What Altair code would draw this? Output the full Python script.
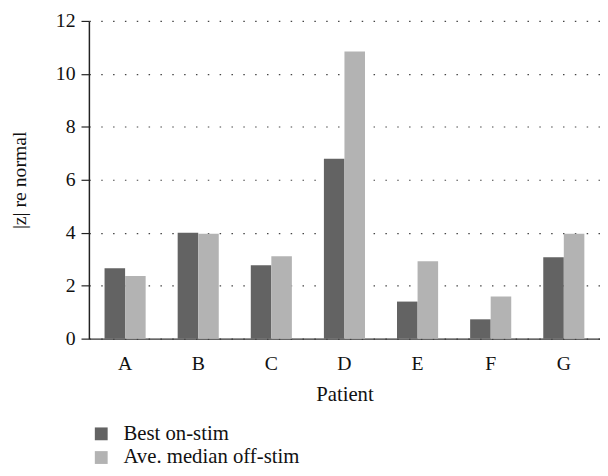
import altair as alt
import pandas as pd

patients = ["A", "B", "C", "D", "E", "F", "G"]
best_on = [2.66, 4.00, 2.77, 6.79, 1.40, 0.73, 3.07]
ave_off = [2.37, 3.96, 3.11, 10.85, 2.92, 1.59, 3.96]
series = ["Best on-stim", "Ave. median off-stim"]
colors = ["#636363", "#b3b3b3"]
y_ticks = [0, 2, 4, 6, 8, 10, 12]

rows = []
for p, a, b in zip(patients, best_on, ave_off):
    rows.append({"Patient": p, "Series": series[0], "value": a})
    rows.append({"Patient": p, "Series": series[1], "value": b})
df = pd.DataFrame(rows)

FONT = "Liberation Serif, Times New Roman, serif"

chart = alt.Chart(df).mark_bar().encode(
    x=alt.X("Patient:N", sort=patients,
            scale=alt.Scale(paddingInner=0.438, paddingOuter=0.214),
            axis=alt.Axis(title="Patient", labelAngle=0, ticks=False,
                          labelFont=FONT, titleFont=FONT,
                          labelFontSize=20, titleFontSize=21,
                          labelPadding=15, titlePadding=11,
                          domainColor="#333333", domainWidth=1.5)),
    xOffset=alt.XOffset("Series:N", sort=series,
                        scale=alt.Scale(paddingInner=0, paddingOuter=0)),
    y=alt.Y("value:Q", scale=alt.Scale(domain=[0, 12], nice=False),
            axis=alt.Axis(title="|z| re normal", values=y_ticks, grid=True,
                          labelFont=FONT, titleFont=FONT,
                          labelFontSize=20, titleFontSize=20,
                          gridDash=[1.5, 10.5], gridColor="#444444", gridWidth=1.2,
                          tickSize=8, tickColor="#222222", tickWidth=1.2,
                          domainColor="#222222", domainWidth=1.5,
                          labelPadding=6, titlePadding=26)),
    color=alt.Color("Series:N", sort=series,
                    scale=alt.Scale(domain=series, range=colors),
                    legend=alt.Legend(title=None, orient="none", legendX=2, legendY=408,
                                      symbolType="square", symbolSize=169,
                                      symbolStrokeWidth=0, labelFontSize=21,
                                      labelFont=FONT, labelColor="#111111",
                                      labelLimit=400,
                                      rowPadding=2, labelOffset=12, padding=0)),
).properties(
    width=518, height=322,
    padding={"left": 82, "top": 10, "right": 0, "bottom": 128},
    autosize="none",
).configure(font=FONT).configure_axis(
    titleFontWeight="normal", labelColor="#111111", titleColor="#111111",
).configure_view(stroke=None).configure_legend(symbolStrokeWidth=0)

chart.save("out.html", embed_options={"renderer": "svg", "actions": False})
